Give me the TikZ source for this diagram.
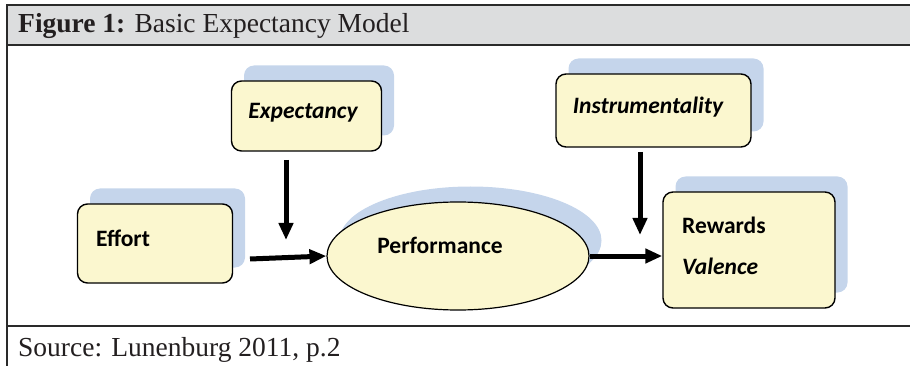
\documentclass[tikz,border=0pt]{standalone}
\usepackage{fontspec}
\setmainfont{Liberation Serif}
\newfontfamily\calib{Carlito}
\usetikzlibrary{arrows.meta,shapes.geometric,shadows}
\definecolor{hdrgray}{HTML}{DCDDDE}
\definecolor{boxyellow}{HTML}{FBF7CF}
\definecolor{shadowblue}{HTML}{C5D5EB}
\definecolor{framegray}{HTML}{2A2A2A}
\definecolor{txtdark}{HTML}{231F20}
\tikzset{
  frameline/.style={draw=framegray, line width=1.4pt},
  bshadow/.style={drop shadow={shadow xshift=12.5pt, shadow yshift=15.5pt, fill=shadowblue, opacity=1}},
  ybox/.style={draw=black, line width=1.4pt, fill=boxyellow, rounded corners=10pt, inner sep=0pt, bshadow},
  yell/.style={ellipse, draw=black, line width=1.2pt, fill=boxyellow, inner sep=0pt, bshadow},
  lbl/.style={font=\calib\fontsize{23.5}{27}\selectfont\bfseries, inner sep=0pt},
  lbli/.style={font=\calib\fontsize{23.5}{27}\selectfont\bfseries\itshape, inner sep=0pt},
  arr/.style={line width=5pt, -{Triangle[length=17pt,width=14pt]}},
  captxt/.style={anchor=base west, inner sep=0pt, text=txtdark, font=\fontsize{27.5}{30}\selectfont},
}
\begin{document}
\begin{tikzpicture}[x=1pt,y=-1pt]
\useasboundingbox (0,0) rectangle (910,366);
% header and frame
\fill[hdrgray] (7,5) rectangle (910,45);
\draw[frameline] (910,5) -- (7,5) -- (7,366);
\draw[frameline] (7,45) -- (910,45);
\draw[frameline] (7,326) -- (910,326);
\node[captxt] (title) at (18,33) {\textbf{Figure 1:} Basic Expectancy Model};
\node[captxt] (source) at (18,356) {Source: Lunenburg 2011, p.2};
% boxes
\node[ybox, minimum width=150pt, minimum height=70pt] (exp) at (306.5,116) {};
\node[lbli] (expt) at (303,113) {Expectancy};
\node[ybox, minimum width=195pt, minimum height=73pt] (ins) at (653.5,110.5) {};
\node[lbli] (inst) at (648,107) {Instrumentality};
\node[ybox, minimum width=155pt, minimum height=79pt] (eff) at (155,243.5) {};
\node[lbl, anchor=west] (efft) at (96,238) {Effort};
\node[yell, minimum width=262pt, minimum height=108pt] (perf) at (458,256) {};
\node[lbl] (perft) at (440,245) {Performance};
\node[ybox, minimum width=172pt, minimum height=116pt] (rew) at (749,250) {};
\node[lbl, anchor=west] (rewt) at (682,225) {Rewards};
\node[lbli, anchor=west] (valt) at (682,266) {Valence};
% arrows
\coordinate (es) at (286,160);
\coordinate (ee) at (286,240);
\coordinate (is) at (640,152);
\coordinate (ie) at (640,235);
\coordinate (fs) at (250,259);
\draw[arr] (es) -- (ee);
\draw[arr] (is) -- (ie);
\draw[arr] (fs) -- (perf.west);
\draw[arr] (perf.east) -- (rew.west |- perf.east);
\end{tikzpicture}
\end{document}
